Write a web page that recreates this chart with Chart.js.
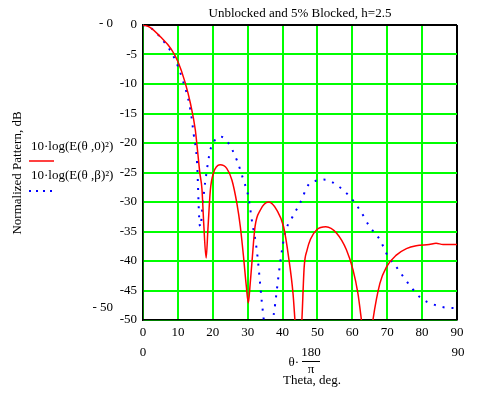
<!DOCTYPE html>
<html>
<head>
<meta charset="utf-8">
<script src="https://cdn.jsdelivr.net/npm/chart.js@4/dist/chart.umd.min.js"></script>
<style>
  body { margin: 0; background: #fff; }
  canvas { display: block; }
</style>
</head>
<body>
<canvas id="chart" width="481" height="394"></canvas>
<script>
// unblocked pattern (red, solid)
const thetaRed = [0, 2, 5, 8, 10, 12, 13.6, 15, 15.7, 16.3, 16.9, 17.4, 18.1, 18.6, 19.3, 20.2, 22.1, 24.0, 25.5, 26.9, 27.9, 28.8, 29.6, 30.2, 30.7, 31.2, 32.1, 33.6, 36.0, 38.4, 40.3, 41.7, 43.0, 43.6, 44.5, 45.5, 46.2, 47.0, 48.0, 49.8, 52.4, 55.5, 58.3, 60.2, 61.6, 62.6, 64.2, 65.9, 67.9, 69.8, 72.6, 75.5, 78.3, 82, 84, 86, 90];
const dbRed    = [0, -0.4, -2.0, -4.0, -6.2, -9.6, -13.3, -17.8, -21.7, -25.1, -27.8, -33.6, -39.5, -34.7, -28.0, -25.1, -23.7, -24.3, -26.3, -30.2, -34.2, -39.2, -44.2, -47.1, -44.0, -40.4, -34.2, -31.4, -30.0, -31.4, -34.2, -39.2, -45.5, -50.5, -58, -50.5, -41.0, -38.2, -36.3, -34.7, -34.2, -35.3, -38.1, -41.5, -45.5, -50.0, -58, -50.0, -43.8, -41.0, -39.0, -37.9, -37.4, -37.2, -37.0, -37.2, -37.2];

// 5% blocked pattern (blue, dotted)
const thetaBlue = [0, 2, 5, 9, 11.2, 13.6, 14.5, 15.5, 16.2, 16.5, 17.0, 17.9, 19.3, 20.5, 22.1, 24.2, 26.9, 28.8, 30.2, 31.2, 32.6, 34.1, 34.7, 35.9, 37.2, 37.9, 39.3, 40.7, 42.6, 45.0, 47.4, 49.5, 51.5, 53.0, 55.5, 59.3, 62.2, 65.0, 67.9, 70.2, 72.6, 76.4, 79.7, 83.0, 86.8, 90];
const dbBlue    = [0, -0.4, -2.1, -5.6, -9.0, -14.4, -18.4, -23.4, -33.6, -34.2, -31.0, -26.3, -21.2, -19.6, -18.9, -19.8, -22.9, -26.3, -29.1, -33.1, -38.1, -47.2, -50.5, -60, -50.5, -47.2, -40.4, -35.3, -32.8, -30.2, -27.1, -26.4, -26.2, -26.3, -27.1, -29.1, -31.4, -34.2, -36.4, -39.2, -41.0, -44.1, -46.3, -47.3, -47.9, -48.0];

const xMin = 0, xMax = 90, xStep = 10;
const yMin = -50, yMax = 0, yStep = 5;

const FONT = '13px "Liberation Serif", "Times New Roman", serif';
const GRID = '#00ff00';

const extraText = {
  id: 'extraText',
  afterDraw(chart) {
    const ctx = chart.ctx;
    ctx.save();
    ctx.font = FONT;
    ctx.fillStyle = '#000';
    ctx.textBaseline = 'middle';

    // title
    ctx.textAlign = 'center';
    ctx.fillText('Unblocked and 5% Blocked, h=2.5', 300, 14);

    // Mathcad range markers
    ctx.textAlign = 'right';
    ctx.fillText('- 0', 113, 24);
    ctx.fillText('- 50', 113, 308);
    ctx.textAlign = 'center';
    ctx.fillText('0', 143, 353);
    ctx.fillText('90', 458, 353);

    // legend
    ctx.textAlign = 'left';
    ctx.fillText('10·log(E(θ ,0)²)', 31, 147);
    ctx.fillText('10·log(E(θ ,β)²)', 31, 176);
    ctx.strokeStyle = '#ff0000';
    ctx.lineWidth = 1.5;
    ctx.beginPath(); ctx.moveTo(29, 161); ctx.lineTo(54, 161); ctx.stroke();
    ctx.strokeStyle = '#0000ff';
    ctx.lineWidth = 2;
    ctx.setLineDash([2, 5]);
    ctx.beginPath(); ctx.moveTo(29, 191); ctx.lineTo(52, 191); ctx.stroke();
    ctx.setLineDash([]);

    // x axis expression
    ctx.textAlign = 'right';
    ctx.fillText('θ·', 299, 363);
    ctx.textAlign = 'center';
    ctx.fillText('180', 311, 353);
    ctx.fillText('π', 311, 370);
    ctx.fillText('Theta, deg.', 312, 381);
    ctx.strokeStyle = '#000';
    ctx.lineWidth = 1;
    ctx.beginPath(); ctx.moveTo(302, 361.5); ctx.lineTo(320, 361.5); ctx.stroke();

    // y axis title
    ctx.translate(18, 173);
    ctx.rotate(-Math.PI / 2);
    ctx.fillText('Normalized Pattern, dB', 0, 0);
    ctx.restore();
  }
};

new Chart(document.getElementById('chart'), {
  type: 'line',
  data: {
    datasets: [
      {
        label: '10·log(E(θ,0)²)',
        data: thetaRed.map((t, i) => ({ x: t, y: dbRed[i] })),
        borderColor: '#ff0000',
        borderWidth: 1.5,
        pointRadius: 0,
        cubicInterpolationMode: 'monotone',
        fill: false
      },
      {
        label: '10·log(E(θ,β)²)',
        data: thetaBlue.map((t, i) => ({ x: t, y: dbBlue[i] })),
        borderColor: '#0000ff',
        borderWidth: 2,
        borderDash: [2, 7],
        pointRadius: 0,
        cubicInterpolationMode: 'monotone',
        fill: false
      }
    ]
  },
  options: {
    responsive: false,
    animation: false,
    devicePixelRatio: 1,
    layout: { padding: { left: 0, right: 24, top: 25, bottom: 0 } },
    plugins: {
      legend: { display: false },
      tooltip: { enabled: false },
      title: { display: false }
    },
    scales: {
      x: {
        type: 'linear',
        min: xMin,
        max: xMax,
        afterFit: s => { s.height = 74; },
        ticks: { stepSize: xStep, color: '#000', font: { family: '"Liberation Serif"', size: 13 }, padding: 5, maxRotation: 0 },
        grid: {
          color: c => (c.tick && c.tick.value === xMax ? '#000' : GRID),
          lineWidth: 2,
          drawTicks: false
        },
        border: { color: '#000', width: 1.5 }
      },
      y: {
        min: yMin,
        max: yMax,
        afterFit: s => { s.width = 143; },
        ticks: { stepSize: yStep, color: '#000', font: { family: '"Liberation Serif"', size: 13 }, padding: 6 },
        grid: {
          color: c => (c.tick && c.tick.value === yMax ? '#000' : GRID),
          lineWidth: 2,
          drawTicks: false
        },
        border: { color: '#000', width: 1.5 }
      }
    }
  },
  plugins: [extraText]
});
</script>
</body>
</html>
